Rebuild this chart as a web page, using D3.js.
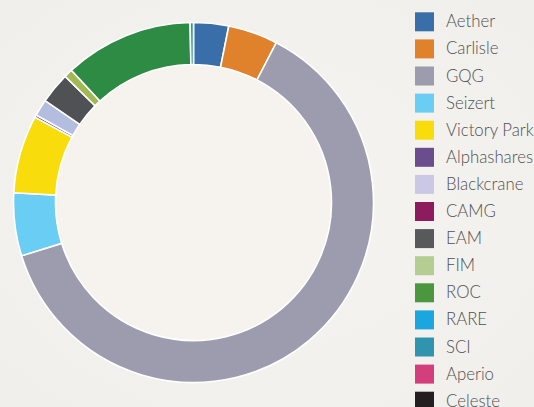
<!DOCTYPE html>
<html><head><meta charset="utf-8">
<script src="https://cdn.jsdelivr.net/npm/d3@7"></script>
<style>
html,body{margin:0;padding:0;background:#f3f2ee;}
svg{display:block;}
</style></head>
<body>
<svg id="c" width="534" height="407"></svg>
<script>
const categories = ["Aether","Carlisle","GQG","Seizert","Victory Park","Alphashares","Blackcrane","CAMG","EAM","FIM","ROC","RARE","SCI","Aperio","Celeste"];
const values = [3.14, 4.47, 62.6, 5.64, 7.0, 0.22, 1.5, 0, 2.78, 0.78, 11.56, 0, 0.3, 0, 0];
const legendColors = ["#396ea8","#e0812b","#9c9cae","#6acdf4","#f9dc0b","#6b4c8c","#cbc8e5","#8d1b5e","#58595b","#b5cd93","#4b973f","#1ca6df","#3094ae","#d33e7c","#231f20"];
const sliceColors = ["#396ea8","#e0812b","#9c9cae","#6acdf4","#f9dc0b","#6b4c8c","#b3bde0","#8d1b5e","#4f5154","#a2b853","#2e8b44","#1ca6df","#3094ae","#d33e7c","#231f20"];

const svg = d3.select("#c");
const defs = svg.append("defs");
const g0 = defs.append("radialGradient").attr("id","bg").attr("cx","50%").attr("cy","50%").attr("r","70%");
g0.append("stop").attr("offset","0%").attr("stop-color","#f6f4f0");
g0.append("stop").attr("offset","100%").attr("stop-color","#f0efeb");
svg.append("rect").attr("width",534).attr("height",407).attr("fill","url(#bg)");

const cx = 193.5, cy = 202.5, rOuter = 180, rInner = 138;
const g = svg.append("g").attr("transform",`translate(${cx},${cy})`);
g.append("circle").attr("r",rInner).attr("fill","#f6f3ee");

const pie = d3.pie().value(d => d.v).sort(null);
const arc = d3.arc().innerRadius(rInner).outerRadius(rOuter);
const data = categories.map((c,i) => ({c, v: values[i], i}));
g.selectAll("path").data(pie(data).filter(d => d.data.v > 0)).join("path")
  .attr("d", arc)
  .attr("fill", d => sliceColors[d.data.i])
  .attr("stroke", "#ffffff")
  .attr("stroke-width", 1.6)
  .attr("stroke-linejoin","miter");

const y = d3.scaleBand().domain(categories).range([12.3, 12.3 + 27.1*categories.length]);
const lg = svg.append("g");
const items = lg.selectAll("g").data(categories).join("g")
  .attr("transform", d => `translate(415,${y(d)})`);
items.append("rect").attr("width",19).attr("height",19)
  .attr("fill",(d,i) => legendColors[i]);
items.append("text").attr("x",31).attr("y",15)
  .attr("font-family","Lato, 'Open Sans', sans-serif")
  .attr("font-size",16.8).attr("font-weight",300)
  .attr("fill","#505050")
  .text(d => d);
</script>
</body></html>
